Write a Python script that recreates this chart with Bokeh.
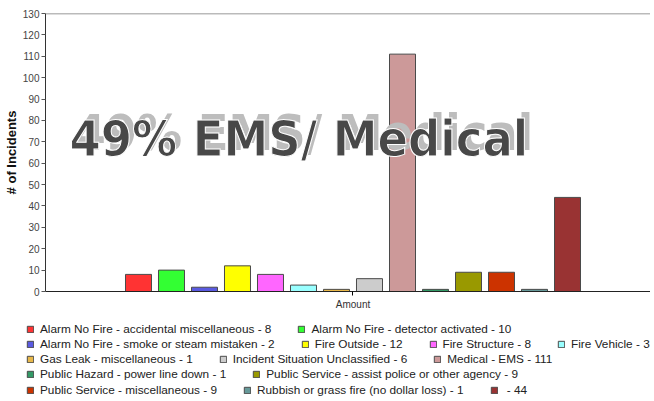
from bokeh.plotting import figure
from bokeh.layouts import column
from bokeh.models import (ColumnDataSource, Legend, LegendItem, Label, Span,
                          FixedTicker)
from bokeh.embed import file_html
from bokeh.resources import INLINE

# ---- data ----
categories = [
    "Alarm No Fire - accidental miscellaneous",
    "Alarm No Fire - detector activated",
    "Alarm No Fire - smoke or steam mistaken",
    "Fire Outside",
    "Fire Structure",
    "Fire Vehicle",
    "Gas Leak - miscellaneous",
    "Incident Situation Unclassified",
    "Medical - EMS",
    "Public Hazard - power line down",
    "Public Service - assist police or other agency",
    "Public Service - miscellaneous",
    "Rubbish or grass fire (no dollar loss)",
    "",
]
counts = [8, 10, 2, 12, 8, 3, 1, 6, 111, 1, 9, 9, 1, 44]
colors = ["#ff3333", "#33ff33", "#5a5ae0", "#ffff00", "#ff66ff", "#99ffff",
          "#e8b84a", "#cccccc", "#cc9999", "#339966", "#999900", "#cc3300",
          "#669999", "#993333"]
y_ticks = list(range(0, 131, 10))
x_tick_label = "Amount"
title_text = "From Jan 1 22 to Dec 31 22"
overlay_text = "49% EMS/ Medical"
legend_rows = [[0, 1], [2, 3, 4, 5], [6, 7, 8], [9, 10], [11, 12, 13]]

xs = list(range(len(counts)))
labels = [f"{c} - {v}" for c, v in zip(categories, counts)]
src = ColumnDataSource(dict(x=xs, top=counts, color=colors, label=labels))

p = figure(width=650, height=318, output_backend="svg", toolbar_location=None,
           x_range=(-2.818, 15.515), y_range=(0, 130),
           min_border_left=45, min_border_right=0, min_border_top=13,
           min_border_bottom=27)
p.background_fill_color = "white"
p.border_fill_color = "white"
p.outline_line_color = None
p.grid.grid_line_color = None

r = p.vbar(x="x", top="top", width=26 / 33, source=src, fill_color="color",
           line_color="#4a4a4a", line_width=1)

# axes
p.yaxis.ticker = FixedTicker(ticks=y_ticks)
p.yaxis.axis_label = "# of Incidents"
p.yaxis.axis_label_text_font = "Liberation Sans"
p.yaxis.axis_label_text_font_style = "bold"
p.yaxis.axis_label_text_font_size = "13px"
p.yaxis.axis_label_text_color = "#111111"
p.yaxis.axis_label_standoff = 1
p.yaxis.major_label_text_font = "Liberation Sans"
p.yaxis.major_label_text_font_size = "10px"
p.yaxis.major_label_text_color = "#444444"
p.yaxis.major_label_standoff = 2
p.yaxis.major_tick_out = 4
p.yaxis.major_tick_in = 0
p.yaxis.minor_tick_line_color = None
p.yaxis.axis_line_color = "#333333"
p.yaxis.major_tick_line_color = "#555555"

center = (len(counts) - 1) / 2
p.xaxis.ticker = FixedTicker(ticks=[center])
p.xaxis.major_label_overrides = {center: x_tick_label}
p.xaxis.major_label_text_font = "Liberation Sans"
p.xaxis.major_label_text_font_size = "10px"
p.xaxis.major_label_text_color = "#333333"
p.xaxis.major_tick_out = 4
p.xaxis.major_tick_in = 0
p.xaxis.minor_tick_line_color = None
p.xaxis.axis_line_color = "#222222"
p.xaxis.major_label_standoff = 3

p.add_layout(Span(location=130, dimension="width", line_color="#777777",
                  line_width=1.5))

# cut-off title at the very top
p.add_layout(Label(x=center, y=133.5, text=title_text, text_align="center",
                   text_baseline="bottom", text_font="Liberation Sans",
                   text_font_style="bold", text_font_size="13px",
                   text_color="#111111"))

# big overlay text: shadow, then outlined main text
ofont = "DejaVu Sans Condensed, Liberation Sans Narrow, Liberation Sans"
p.add_layout(Label(x=-1.94, y=74, text=overlay_text,
                   text_font=ofont, text_font_style="bold",
                   text_font_size="50px", text_color="#bdbdbd",
                   text_baseline="alphabetic"))
p.add_layout(Label(x=-2.09, y=71.5, text=overlay_text,
                   text_font=ofont, text_font_style="bold",
                   text_font_size="50px", text_color="#484848",
                   text_outline_color="white",
                   text_baseline="alphabetic"))

# legend panel: a second figure whose bars sit outside its view
leg = figure(width=650, height=82, output_backend="svg", toolbar_location=None,
             x_range=(-30, -20), y_range=(-30, -20), min_border=0,
             x_axis_location=None, y_axis_location=None)
leg.outline_line_color = None
leg.grid.grid_line_color = None
for fig in (p, leg):
    if "frame_align" in fig.properties():
        fig.frame_align = False
lr = leg.vbar(x="x", top="top", width=0.8, source=src, fill_color="color",
              line_color="#4a4a4a", line_width=1)

row_y = [63.5, 48.5, 33.5, 18.5, 2.5]
for row, yy in zip(legend_rows, row_y):
    items = [LegendItem(label=labels[i], renderers=[lr], index=i) for i in row]
    lg = Legend(items=items, orientation="horizontal", location=(26, yy),
                padding=0, margin=0, spacing=26, glyph_width=8,
                glyph_height=8, label_standoff=6, label_height=15,
                label_text_font="Liberation Sans",
                label_text_font_size="11.8px",
                label_text_color="#222222", border_line_color=None,
                background_fill_alpha=0)
    leg.add_layout(lg, "center")

open("out.html", "w").write(file_html(column(p, leg, spacing=0), INLINE))
